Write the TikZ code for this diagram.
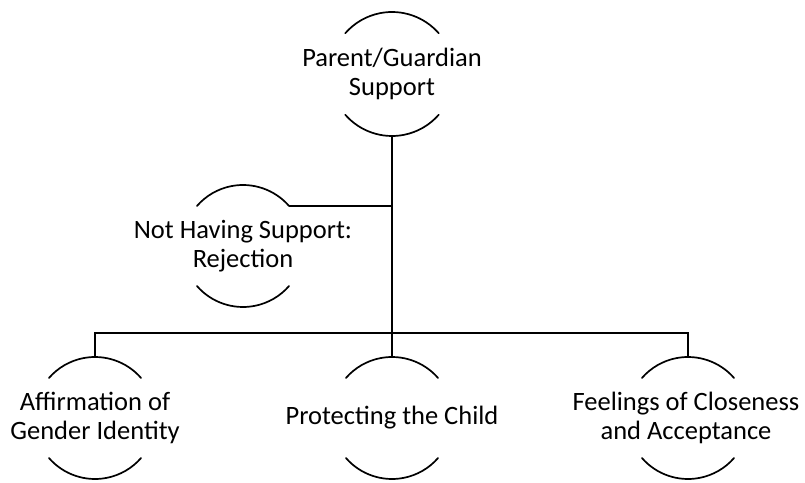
\documentclass[tikz,border=0pt]{standalone}
\usepackage{fontspec}
\setmainfont{Carlito}
\begin{document}
\begin{tikzpicture}[x=1pt,y=1pt,line width=1.7pt,
  ring/.style={circle,minimum size=122pt,inner sep=0pt,outer sep=0pt},
  txt/.style={align=center,inner sep=0pt,font=\fontsize{26.5}{29}\selectfont},
  arcs/.style={line cap=round}]
\useasboundingbox (0,0) rectangle (805,482);
% rings
\node[ring,minimum size=124pt] (top) at (392,408) {};
\node[ring] (rej) at (243,236) {};
\node[ring] (aff) at (95,64) {};
\node[ring] (pro) at (392,64) {};
\node[ring] (fee) at (688,64) {};
% arcs
\draw[arcs] (top.41) arc[start angle=41,end angle=139,radius=62pt];
\draw[arcs] (top.221) arc[start angle=221,end angle=319,radius=62pt];
\foreach \n in {rej,aff,pro,fee}{
  \draw[arcs] (\n.41) arc[start angle=41,end angle=139,radius=61pt];
  \draw[arcs] (\n.221) arc[start angle=221,end angle=319,radius=61pt];
}
% texts
\node[txt] (ttop) at (top) {Parent/Guardian\\Support};
\node[txt] (trej) at (rej) {Not Having Support:\\Rejection};
\node[txt] (taff) at (aff) {Affirmation of\\Gender Identity};
\node[txt] (tpro) at (pro) {Protecting the Child};
\node[txt] (tfee) at ([xshift=-2pt]fee) {Feelings of Closeness\\and Acceptance};
% connectors
\coordinate (j) at (392,149);
\draw (top.south) -- (j);
\draw (rej.41) -- (rej.41 -| top.south);
\draw (aff.north) |- (j) -| (fee.north);
\draw (pro.north) -- (j);
\end{tikzpicture}
\end{document}
